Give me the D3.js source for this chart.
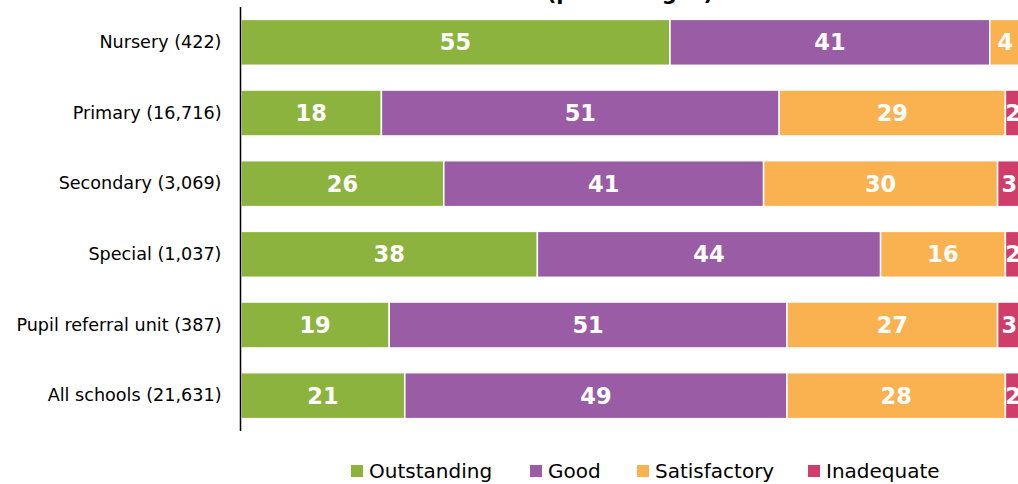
<!DOCTYPE html>
<html>
<head>
<meta charset="utf-8">
<script src="https://cdn.jsdelivr.net/npm/d3@7"></script>
<style>
  body { margin: 0; background: #fff; }
  svg { display: block; }
</style>
</head>
<body>
<div id="chart"></div>
<script>
var categories = ["Nursery (422)", "Primary (16,716)", "Secondary (3,069)", "Special (1,037)", "Pupil referral unit (387)", "All schools (21,631)"];
var seriesNames = ["Outstanding", "Good", "Satisfactory", "Inadequate"];
var outstanding = [55, 18, 26, 38, 19, 21];
var good = [41, 51, 41, 44, 51, 49];
var satisfactory = [4, 29, 30, 16, 27, 28];
var inadequate = [0, 2, 3, 2, 3, 2];
var colors = ["#8db33f", "#9b5ca6", "#f9b24f", "#d13d6a"];

var width = 1018, height = 484;
var font = "'DejaVu Sans', sans-serif";

var svg = d3.select("#chart").append("svg")
    .attr("width", width)
    .attr("height", height);

// build rows for the stack
var rows = categories.map(function(c, i) {
    return { cat: c, Outstanding: outstanding[i], Good: good[i], Satisfactory: satisfactory[i], Inadequate: inadequate[i] };
});
var stacked = d3.stack().keys(seriesNames)(rows);

var x = d3.scaleLinear().domain([0, 100]).range([241, 1021]);
var y = d3.scaleBand().domain(categories).range([7, 431]).paddingInner(0.35).paddingOuter(0.175);

// title (cut off at top in the original, only descenders show)
svg.append("text")
    .attr("x", 630)
    .attr("y", 0)
    .attr("text-anchor", "middle")
    .attr("font-family", font)
    .attr("font-weight", "bold")
    .attr("font-size", "21px")
    .attr("fill", "#000")
    .text("(percentages)");

var layers = svg.selectAll("g.layer")
    .data(stacked)
    .enter().append("g")
    .attr("class", "layer")
    .attr("fill", function(d, i) { return colors[i]; });

layers.selectAll("rect")
    .data(function(d) { return d; })
    .enter().append("rect")
    .attr("x", function(d) { return x(d[0]); })
    .attr("y", function(d) { return y(d.data.cat); })
    .attr("width", function(d) { return Math.max(0, x(d[1]) - x(d[0])); })
    .attr("height", y.bandwidth())
    .attr("stroke", "#fff")
    .attr("stroke-width", 1.5);

layers.selectAll("text")
    .data(function(d) { return d.filter(function(v) { return v[1] - v[0] > 0; }); })
    .enter().append("text")
    .attr("x", function(d) { return (x(d[0]) + x(d[1])) / 2; })
    .attr("y", function(d) { return y(d.data.cat) + y.bandwidth() / 2; })
    .attr("dy", "0.36em")
    .attr("text-anchor", "middle")
    .attr("font-family", font)
    .attr("font-weight", "bold")
    .attr("font-size", "22.5px")
    .attr("fill", "#fff")
    .text(function(d) { return d[1] - d[0]; });

// category axis
var yAxis = svg.append("g")
    .attr("transform", "translate(240.5,0)")
    .call(d3.axisLeft(y).tickSize(0).tickPadding(19));
yAxis.select(".domain").attr("stroke", "#000").attr("stroke-width", 1.5).attr("d", "M0,7V431");
yAxis.selectAll("text")
    .attr("font-family", font)
    .attr("font-size", "17.6px")
    .attr("fill", "#000");

// legend
var legendX = [351, 530, 637, 808];
var legend = svg.selectAll("g.legend")
    .data(seriesNames)
    .enter().append("g")
    .attr("class", "legend")
    .attr("transform", function(d, i) { return "translate(" + legendX[i] + ",471)"; });

legend.append("rect")
    .attr("x", 0)
    .attr("y", -6)
    .attr("width", 12)
    .attr("height", 12)
    .attr("fill", function(d, i) { return colors[i]; });

legend.append("text")
    .attr("x", 18)
    .attr("y", 0)
    .attr("dy", "0.36em")
    .attr("font-family", font)
    .attr("font-size", "20px")
    .attr("fill", "#000")
    .text(function(d) { return d; });
</script>
</body>
</html>
